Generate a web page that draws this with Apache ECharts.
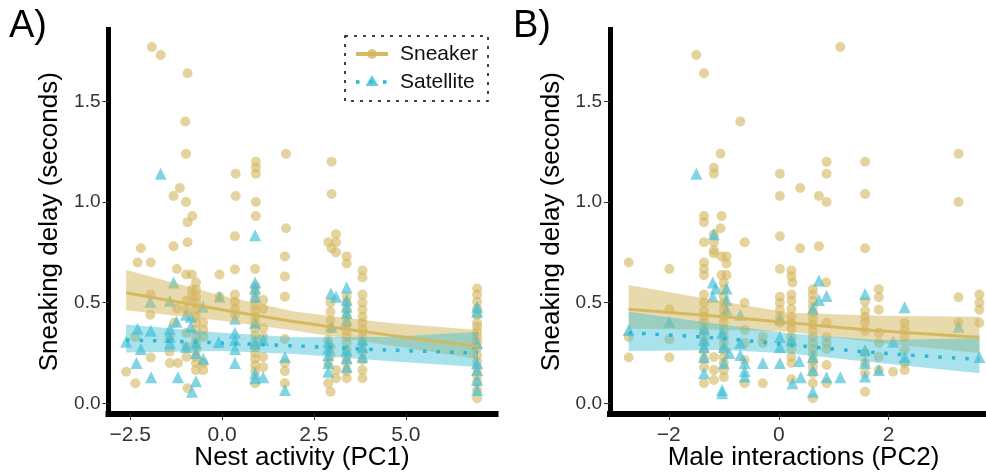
<!DOCTYPE html>
<html>
<head>
<meta charset="utf-8">
<script src="https://cdn.jsdelivr.net/npm/echarts@6/dist/echarts.min.js"></script>
<style>html,body{margin:0;padding:0;background:#fff}#c{width:986px;height:475px}</style>
</head>
<body>
<div id="c"></div>
<script>
// ---------- DATA ----------
const yTicks = [0, 0.5, 1.0, 1.5];
const xTicksA = [-2.5, 0, 2.5, 5.0];
const xTicksB = [-2, 0, 2];

// Panel A: Nest activity (PC1)
const sneakerA = [
 [-1.91,1.77],[-1.67,1.73],[-0.94,1.64],[-1.0,1.40],[-0.98,1.24],[1.74,1.24],[0.92,1.20],[0.92,1.17],[0.92,1.14],
 [0.37,1.14],[0.37,1.03],[0.92,1.00],[0.92,0.93],[1.74,0.87],[-1.15,1.07],[-1.32,1.03],[-0.98,1.00],[-0.81,0.93],
 [-0.94,0.90],[2.98,1.20],[2.98,1.04],
 [-2.21,0.77],[-2.30,0.70],[-1.94,0.70],[-2.61,0.157],[-2.36,0.10],[-1.94,0.228],[-1.95,0.44],[-1.95,0.54],[-2.36,0.33],
 [-1.32,0.78],[-1.23,0.667],[-1.22,0.47],[-1.43,0.257],[-1.42,0.20],[-1.2,0.20],[-0.94,0.80],[-0.98,0.64],[-0.82,0.64],
 [-1.43,0.33],[-1.3,0.40],
 [-0.71,0.60],[-0.71,0.565],[-0.71,0.53],[-0.71,0.50],[-0.71,0.465],[-0.71,0.43],[-0.71,0.40],[-0.71,0.365],[-0.71,0.33],
 [-0.71,0.30],[-0.71,0.265],[-0.71,0.23],[-0.71,0.20],[-0.71,0.165],
 [-0.82,0.565],[-0.82,0.53],[-0.97,0.51],[-0.97,0.465],[-0.97,0.35],[-0.97,0.28],[-0.97,0.23],[-0.94,0.075],
 [-0.51,0.40],[-0.51,0.365],[-0.51,0.33],[-0.51,0.20],[-0.51,0.165],
 [-0.07,0.64],[-0.07,0.53],
 [0.35,0.83],[0.35,0.665],[0.35,0.54],[0.35,0.505],[0.35,0.47],[0.35,0.44],
 [0.9,0.667],[0.9,0.58],[0.9,0.55],[0.9,0.52],[0.9,0.49],[0.9,0.46],[0.9,0.43],[0.9,0.40],[0.9,0.37],[0.9,0.34],
 [0.9,0.31],[0.9,0.28],[0.9,0.25],[0.9,0.22],[0.9,0.19],[0.9,0.16],[0.9,0.10],
 [1.12,0.513],[1.12,0.47],[1.12,0.373],[1.12,0.33],[1.12,0.23],[1.12,0.18],
 [1.71,0.73],[1.71,0.63],[1.71,0.53],[1.71,0.32],[1.71,0.20],[1.71,0.16],[1.71,0.10],
 [2.89,0.80],[2.98,0.77],[3.10,0.84],[3.10,0.80],[3.10,0.75],[3.39,0.73],[3.39,0.695],[3.82,0.66],[3.82,0.625],
 [2.95,0.50],[2.95,0.455],[2.95,0.41],[2.95,0.37],[2.89,0.315],[2.95,0.28],[2.95,0.24],[2.89,0.20],[2.89,0.10],[2.95,0.058],
 [3.10,0.165],[3.10,0.125],
 [3.39,0.53],[3.39,0.50],[3.39,0.465],[3.39,0.43],[3.39,0.395],[3.39,0.36],[3.39,0.33],[3.39,0.30],[3.39,0.265],
 [3.39,0.23],[3.39,0.20],[3.39,0.16],[3.39,0.125],
 [3.82,0.54],[3.82,0.50],[3.82,0.465],[3.82,0.43],[3.82,0.40],[3.82,0.365],[3.82,0.33],[3.82,0.30],[3.82,0.257],
 [3.82,0.215],[3.82,0.165],[3.82,0.125],
 [6.94,0.57],[6.94,0.54],[6.94,0.505],[6.94,0.47],[6.94,0.44],[6.94,0.40],[6.94,0.38],[6.94,0.355],[6.94,0.33],
 [6.94,0.306],[6.94,0.273],[6.94,0.24],[6.94,0.207],[6.94,0.174],[6.94,0.14],[6.94,0.107],[6.94,0.066],[6.94,0.025]
];
const satelliteA = [
 [-1.67,1.14],
 [-2.61,0.306],[-2.30,0.37],[-2.21,0.27],[-2.33,0.20],[-1.94,0.36],[-1.93,0.13],[-1.95,0.505],[-1.32,0.60],
 [-1.42,0.37],[-1.42,0.33],[-1.42,0.30],[-1.24,0.405],[-1.2,0.13],[-1.42,0.51],[-0.98,0.44],[-0.98,0.28],
 [-0.85,0.43],[-0.85,0.38],[-0.71,0.11],[-0.82,0.058],[-0.52,0.48],[-0.51,0.22],[-0.09,0.305],[-0.07,0.53],
 [-0.71,0.25],[-0.71,0.30],
 [0.9,0.835],[0.9,0.60],[0.9,0.57],[0.9,0.53],[0.9,0.40],[0.9,0.30],[0.35,0.42],[0.35,0.35],[0.35,0.315],[0.35,0.27],
 [0.35,0.20],[0.9,0.15],[0.9,0.125],[1.12,0.315],[1.12,0.13],[1.71,0.23],[1.71,0.066],
 [2.96,0.546],[3.1,0.53],[3.39,0.576],[3.39,0.513],[3.39,0.48],[3.39,0.447],[3.39,0.41],[2.89,0.306],[2.89,0.273],
 [2.89,0.24],[2.89,0.2],[2.89,0.157],[2.98,0.38],[3.39,0.265],[3.39,0.225],[3.39,0.18],[3.82,0.315],[3.82,0.28],
 [3.82,0.23],[6.94,0.48],[6.94,0.455],[6.94,0.30],[6.94,0.20],[6.94,0.165],[6.94,0.116],[6.94,0.066]
];
// fitted lines [x, y] and ribbons [x, lower, upper]
const fitSneakerA = [[-2.61,0.549],[0,0.465],[2,0.405],[4.5,0.34],[6.96,0.283]];
const fitSatelliteA = [[-2.61,0.315],[0,0.30],[2,0.285],[4.5,0.265],[6.96,0.25]];
const bandSneakerA = [[-2.61,0.462,0.662],[0,0.41,0.535],[2,0.36,0.455],[4.5,0.29,0.40],[6.96,0.22,0.364]];
const bandSatelliteA = [[-2.61,0.252,0.392],[0,0.26,0.35],[2,0.245,0.328],[4.5,0.21,0.33],[6.96,0.18,0.356]];

// Panel B: Male interactions (PC2)
const sneakerB = [
 [-1.50,1.73],[-1.36,1.64],[-0.70,1.40],[-1.06,1.24],[-1.18,1.17],[-1.18,1.14],[0.02,1.14],[0.02,1.03],[-1.36,0.93],
 [-1.36,0.90],[-1.04,0.93],[-1.06,0.87],[1.12,1.77],[3.27,1.24],[3.27,1.0],[0.87,1.20],[0.87,1.14],[0.87,1.0],
 [1.57,1.20],[1.57,1.04],[0.39,1.07],[0.73,1.03],
 [-2.73,0.70],[-2.73,0.33],[-2.73,0.228],[-1.99,0.667],[-1.99,0.467],[-1.99,0.318],[-1.99,0.228],
 [-1.36,0.80],[-1.18,0.84],[-1.18,0.80],[-1.18,0.76],[-1.18,0.745],[-0.62,0.80],[-1.36,0.70],[-1.36,0.667],[-1.36,0.637],
 [-1.04,0.73],[-0.95,0.73],[-0.95,0.695],[-1.04,0.637],[-0.95,0.637],
 [-1.36,0.54],[-1.36,0.50],[-1.36,0.46],[-1.36,0.43],[-1.36,0.40],[-1.36,0.36],[-1.36,0.33],[-1.36,0.30],[-1.36,0.26],
 [-1.36,0.22],[-1.36,0.18],[-1.36,0.10],
 [-1.18,0.23],[-1.18,0.165],[-1.18,0.116],
 [-1.0,0.60],[-1.0,0.565],[-1.0,0.53],[-1.0,0.50],[-1.0,0.465],[-1.0,0.43],[-1.0,0.40],[-1.0,0.365],[-1.0,0.33],
 [-1.0,0.30],[-1.0,0.265],[-1.0,0.23],[-1.0,0.20],[-1.0,0.165],[-1.0,0.13],
 [-0.62,0.50],[-0.62,0.365],[-0.62,0.30],[-0.62,0.215],[-0.62,0.10],
 [-0.29,0.33],[-0.29,0.30],[-0.29,0.10],
 [0.02,0.83],[0.02,0.667],[0.02,0.53],[0.02,0.50],[0.02,0.465],[0.02,0.43],[0.02,0.40],
 [0.23,0.66],[0.23,0.63],[0.25,0.60],[0.23,0.54],[0.23,0.51],[0.23,0.47],[0.23,0.43],[0.23,0.40],[0.23,0.37],
 [0.23,0.33],[0.23,0.30],[0.23,0.27],[0.23,0.23],[0.23,0.20],[0.23,0.12],
 [0.39,0.77],[0.73,0.78],[1.57,0.77],[0.86,0.60],
 [0.62,0.567],[0.62,0.54],[0.62,0.51],[0.62,0.48],[0.62,0.45],[0.62,0.42],[0.62,0.39],[0.62,0.36],[0.62,0.33],
 [0.62,0.30],[0.62,0.27],[0.62,0.24],[0.62,0.21],[0.62,0.18],[0.62,0.15],[0.62,0.10],[0.62,0.025],
 [0.87,0.40],[0.87,0.33],[0.87,0.30],[0.87,0.27],[0.87,0.19],[0.87,0.10],
 [1.57,0.505],[1.57,0.46],[1.57,0.43],[1.57,0.40],[1.57,0.36],[1.57,0.25],[1.57,0.20],[1.57,0.15],[1.57,0.058],
 [1.82,0.567],[1.82,0.527],[1.82,0.465],[1.82,0.35],[1.82,0.30],[1.82,0.23],[1.82,0.165],
 [2.08,0.157],
 [2.29,0.40],[2.29,0.365],[2.29,0.33],[2.29,0.265],[2.29,0.20],[2.29,0.165],
 [3.27,0.527],[3.27,0.40],
 [3.65,0.54],[3.65,0.50],[3.65,0.465],[3.65,0.40]
];
const satelliteB = [
 [-1.50,1.14],
 [-2.73,0.364],[-1.99,0.405],[-1.2,0.60],[-1.2,0.53],[-1.15,0.57],[-0.95,0.57],[-0.95,0.513],[-0.95,0.465],
 [-1.36,0.37],[-1.36,0.315],[-1.36,0.28],[-1.36,0.23],[-1.36,0.15],[-1.03,0.066],[-1.03,0.05],[-1.18,0.84],
 [-0.7,0.44],[-0.7,0.30],[-0.7,0.24],[-0.62,0.20],[-0.62,0.16],[-0.62,0.133],[-0.29,0.20],[0.02,0.42],[0.02,0.33],
 [0.02,0.20],[-1.03,0.35],[-1.0,0.28],[-1.0,0.2],[-0.9,0.25],
 [0.73,0.61],[0.87,0.533],[0.73,0.513],[0.62,0.47],[1.57,0.543],[2.29,0.477],[2.08,0.306],[3.27,0.38],
 [0.02,0.28],[0.23,0.315],[0.37,0.21],[0.4,0.13],[0.25,0.10],[0.62,0.23],[0.62,0.165],[0.62,0.058],[0.87,0.13],
 [1.12,0.13],[1.57,0.265],[1.57,0.20],[1.57,0.133],[1.82,0.165],[2.29,0.23],[3.65,0.23]
];
const fitSneakerB = [[-2.73,0.467],[-1,0.43],[0.2,0.40],[1.84,0.36],[3.65,0.328]];
const fitSatelliteB = [[-2.73,0.351],[-1,0.322],[0.2,0.29],[1.84,0.25],[3.65,0.218]];
const bandSneakerB = [[-2.73,0.37,0.588],[-1,0.366,0.505],[0.2,0.355,0.45],[1.84,0.30,0.435],[3.65,0.25,0.43]];
const bandSatelliteB = [[-2.73,0.26,0.455],[-1,0.265,0.39],[0.2,0.248,0.347],[1.84,0.2,0.315],[3.65,0.149,0.323]];

// ---------- STYLE ----------
const FONT = '"Liberation Sans", Arial, Helvetica, sans-serif';
const TAN = 'rgba(212,182,94,0.75)';
const CYAN = 'rgba(62,190,214,0.82)';
const TAN_BAND = 'rgba(212,182,94,0.5)';
const CYAN_BAND = 'rgba(62,190,214,0.45)';
const TAN_LINE = 'rgba(212,182,94,0.95)';
const CYAN_LINE = 'rgba(40,185,212,1)';

function fmtNum(d){ return function(v){ const s = v.toFixed(d); return v < 0 ? '\u2212' + s.slice(1) : s; }; }

function xAxis(gi, min, max, ticks, name, dec){
  return {
    type:'value', gridIndex:gi, min:min, max:max,
    name:name, nameLocation:'middle', nameGap:31, nameMoveOverlap:false,
    nameTextStyle:{fontFamily:FONT, fontSize:26, color:'#000'},
    axisLine:{show:true, onZero:false, lineStyle:{color:'#000', width:6, cap:'square'}},
    axisTick:{show:true, customValues:ticks, length:6, lineStyle:{color:'#333', width:1}},
    axisLabel:{show:true, customValues:ticks, formatter:fmtNum(dec), fontFamily:FONT, fontSize:21, color:'#333', margin:11},
    splitLine:{show:false}
  };
}
function yAxis(gi, gap){
  return {
    type:'value', gridIndex:gi, min:-0.053, max:1.857,
    name:'Sneaking delay (seconds)', nameLocation:'middle', nameRotate:90, nameGap:gap, nameMoveOverlap:false,
    nameTextStyle:{fontFamily:FONT, fontSize:26, color:'#000'},
    axisLine:{show:true, onZero:false, lineStyle:{color:'#000', width:5, cap:'square'}},
    axisTick:{show:true, customValues:yTicks, length:6, lineStyle:{color:'#333', width:1}},
    axisLabel:{show:true, customValues:yTicks, formatter:fmtNum(1), fontFamily:FONT, fontSize:19, color:'#333', margin:8},
    splitLine:{show:false}
  };
}
function scatter(gi, data, sym, size, color){
  return {type:'scatter', xAxisIndex:gi, yAxisIndex:gi, data:data, symbol:sym, symbolSize:size,
    itemStyle:{color:color}, silent:true, z:2};
}
function band(gi, data, color, z){
  return {type:'custom', xAxisIndex:gi, yAxisIndex:gi, data:data, z:z, silent:true,
    encode:{x:0, y:[1,2]},
    renderItem:function(params, api){
      if (params.dataIndex !== 0) return null;
      const up = data.map(d => api.coord([d[0], d[2]]));
      const lo = data.slice().reverse().map(d => api.coord([d[0], d[1]]));
      return {type:'polygon', shape:{points:up.concat(lo)}, style:{fill:color}};
    }};
}
function fit(gi, data, color, type, width){
  return {type:'line', xAxisIndex:gi, yAxisIndex:gi, data:data, smooth:0.3, showSymbol:false, silent:true, z:5,
    lineStyle:{color:color, width:width, type:type, cap:'butt'}};
}

const chart = echarts.init(document.getElementById('c'), null, {renderer:'canvas'});
chart.setOption({
  animation:false,
  backgroundColor:'#fff',
  grid:[
    {left:108.5, top:29.5, width:387, height:384.5, containLabel:false, outerBoundsMode:'none'},
    {left:610, top:29.5, width:387, height:384.5, containLabel:false, outerBoundsMode:'none'}
  ],
  xAxis:[
    xAxis(0, -3.09, 7.44, xTicksA, 'Nest activity (PC1)', 1),
    xAxis(1, -3.07, 3.97, xTicksB, 'Male interactions (PC2)', 0)
  ],
  yAxis:[ yAxis(0, 46), yAxis(1, 45) ],
  series:[
    scatter(0, sneakerA, 'circle', 10, TAN),
    scatter(0, satelliteA, 'triangle', 12, CYAN),
    band(0, bandSneakerA, TAN_BAND, 3),
    band(0, bandSatelliteA, CYAN_BAND, 4),
    fit(0, fitSneakerA, TAN_LINE, 'solid', 3),
    fit(0, fitSatelliteA, CYAN_LINE, [3.5,10], 3.5),
    scatter(1, sneakerB, 'circle', 10, TAN),
    scatter(1, satelliteB, 'triangle', 12, CYAN),
    band(1, bandSneakerB, TAN_BAND, 3),
    band(1, bandSatelliteB, CYAN_BAND, 4),
    fit(1, fitSneakerB, TAN_LINE, 'solid', 3),
    fit(1, fitSatelliteB, CYAN_LINE, [3.5,10], 3.5)
  ],
  graphic:[
    {type:'text', left:9, top:8, style:{text:'A)', font:'38px ' + FONT, fill:'#000'}},
    {type:'text', left:513, top:8, style:{text:'B)', font:'38px ' + FONT, fill:'#000'}},
    {type:'rect', shape:{x:345, y:36, width:143, height:65},
      style:{fill:'#fff', stroke:'#000', lineWidth:1.5, lineDash:[3,6]}, z:10},
    {type:'line', shape:{x1:356, y1:54, x2:388, y2:54}, style:{stroke:TAN_LINE, lineWidth:4}, z:11},
    {type:'circle', shape:{cx:372, cy:54, r:5}, style:{fill:TAN}, z:12},
    {type:'line', shape:{x1:356, y1:82, x2:390, y2:82}, style:{stroke:CYAN_LINE, lineWidth:3.5, lineDash:[3.5,10]}, z:11},
    {type:'polygon', shape:{points:[[372,75],[378.5,86],[365.5,86]]}, style:{fill:CYAN}, z:12},
    {type:'text', x:400, y:54, style:{text:'Sneaker', font:'21px ' + FONT, fill:'#111', verticalAlign:'middle'}, z:12},
    {type:'text', x:400, y:82, style:{text:'Satellite', font:'21px ' + FONT, fill:'#111', verticalAlign:'middle'}, z:12}
  ]
});
</script>
</body>
</html>
